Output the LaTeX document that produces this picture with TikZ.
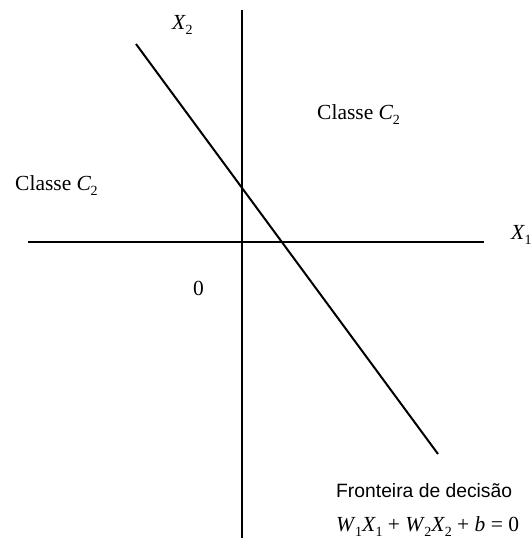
\documentclass[tikz,border=0pt]{standalone}
\usepackage{fontspec}
\setmainfont{Liberation Serif}
\newfontfamily\arialfont{Liberation Sans}
\newcommand{\vsub}[2]{\textit{#1}\kern-0.5pt\raisebox{-0.25em}{\fontsize{14}{14}\selectfont #2}}
\begin{document}
\begin{tikzpicture}[x=1pt,y=-1pt,
  axis/.style={line width=2pt},
  lbl/.style={inner sep=0pt,anchor=base west,font=\fontsize{21.5}{21.5}\selectfont},
  sanslbl/.style={inner sep=0pt,anchor=base west,font=\arialfont\fontsize{19.3}{19.3}\selectfont}]
\useasboundingbox (0,0) rectangle (532,546);
\coordinate (xl) at (28,242);
\coordinate (xr) at (484,242);
\coordinate (yt) at (242,10);
\coordinate (yb) at (242,538);
\coordinate (ds) at (136,44);
\coordinate (de) at (438,454);
\draw[axis] (xl) -- (xr);
\draw[axis] (yt) -- (yb);
\draw[axis] (ds) -- (de);
\node[lbl] (x2) at (172,29) {\vsub{X}{2}};
\node[lbl] (x1) at (511,239) {\vsub{X}{1}};
\node[lbl] (c2l) at (15,190) {Classe \vsub{C}{2}};
\node[lbl] (c2r) at (317,119) {Classe \vsub{C}{2}};
\node[lbl] (zero) at (193,295) {0};
\node[sanslbl] (fr) at (336,497) {Fronteira de decisão};
\node[lbl] (eq) at (336,531) {\vsub{W}{1}\vsub{X}{1} + \vsub{W}{2}\vsub{X}{2} + \textit{b} = 0};
\end{tikzpicture}
\end{document}
